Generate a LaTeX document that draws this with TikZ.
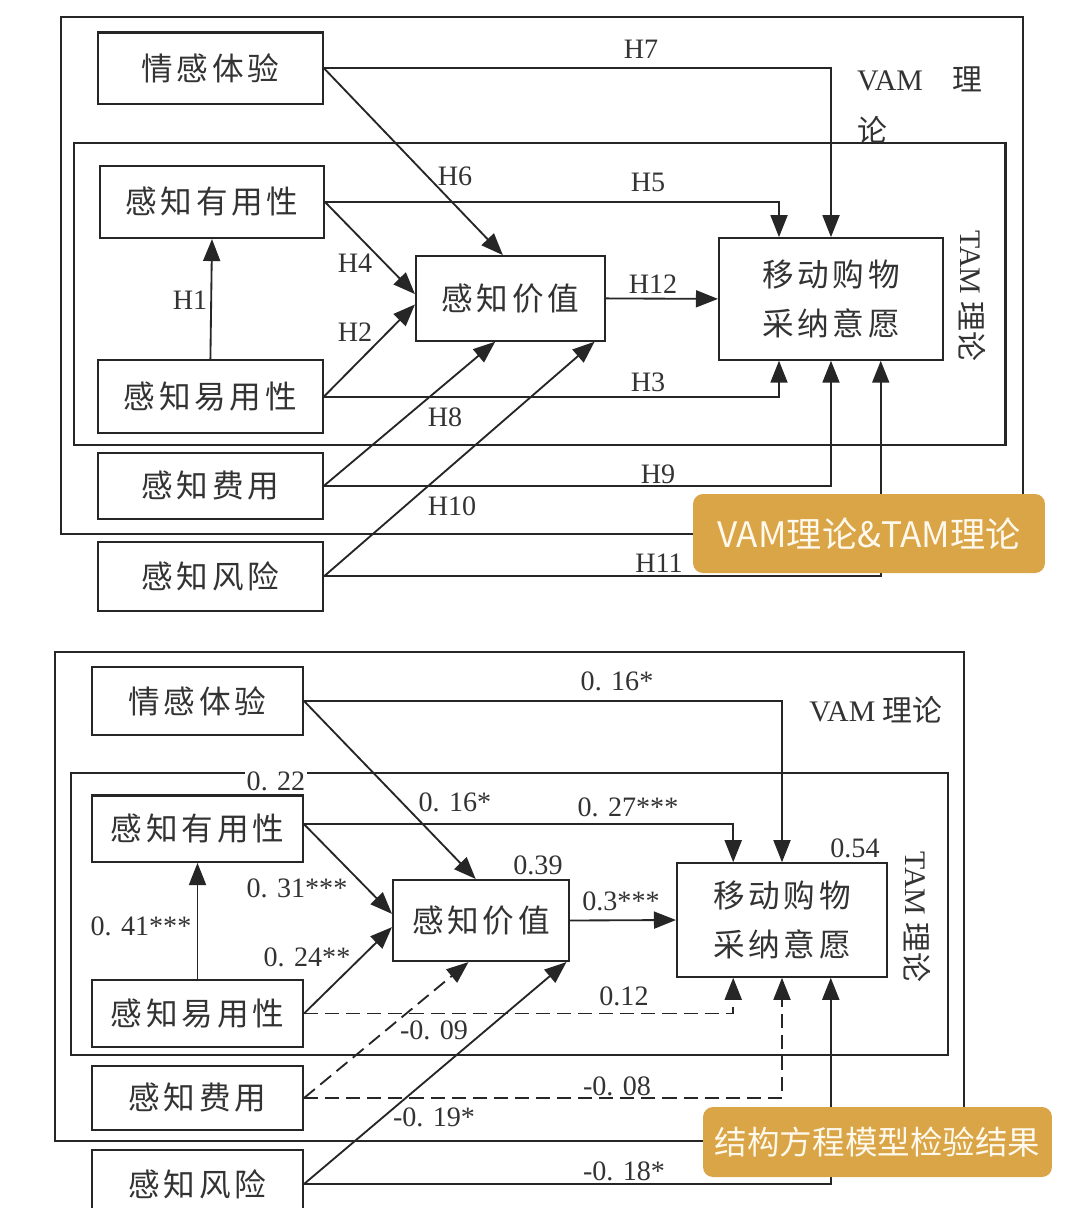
\documentclass[tikz,border=0pt]{standalone}
\usepackage{fontspec}
\setmainfont{Liberation Serif}
\newfontfamily\cjk{Noto Sans CJK SC}
\newfontfamily\cjkls[LetterSpace=12]{Noto Sans CJK SC}
\usetikzlibrary{arrows.meta,calc}
\definecolor{linec}{HTML}{262626}
\definecolor{txt}{HTML}{333333}
\definecolor{gold}{HTML}{D9A546}
\definecolor{cream}{HTML}{FFF8EC}
\begin{document}
\begin{tikzpicture}[x=0.02cm,y=-0.02cm,
 frame/.style={draw=linec,line width=1.2pt},
 box/.style={draw=linec,line width=1.2pt,inner sep=0pt,text=txt,font=\cjkls\fontsize{18}{28}\selectfont,align=center},
 arr/.style={draw=linec,line width=1.05pt,-{Triangle[length=0.44cm,width=0.34cm]}},
 darr/.style={arr,dash pattern=on 8pt off 4pt},
 lab/.style={text=txt,inner sep=1pt,font=\fontsize{16}{18}\selectfont},
 side/.style={text=txt,inner sep=1pt,font=\fontsize{17}{20}\selectfont},
 tag/.style={fill=gold,rounded corners=0.2cm,text=cream,inner sep=0pt}
]
\useasboundingbox (0,0) rectangle (1080,1208);
\fill[white] (0,0) rectangle (1080,1208);
\clip (0,0) rectangle (1080,1208);

%================ TOP DIAGRAM ================
\draw[frame] (60.7,16.6) rectangle (1023,533.6);
\draw[frame] (73.8,143) rectangle (1005.5,444.7);

\node[box,minimum width=4.50cm,minimum height=1.43cm] (qg) at (210.4,68.2) {情感体验};
\node[box,minimum width=4.48cm,minimum height=1.44cm] (yy) at (212,202) {感知有用性};
\node[box,minimum width=4.50cm,minimum height=1.45cm] (yyy) at (210.4,396.6) {感知易用性};
\node[box,minimum width=4.50cm,minimum height=1.33cm] (fy) at (210.4,485.8) {感知费用};
\node[box,minimum width=4.50cm,minimum height=1.37cm] (fx) at (210.4,576.4) {感知风险};
\node[box,minimum width=3.78cm,minimum height=1.69cm] (jz) at (510.5,298.4) {感知价值};
\node[box,minimum width=4.48cm,minimum height=2.43cm] (yd) at (831,298.9) {移动购物\\采纳意愿};

\node[side,anchor=west] (vamt) at (855,79) {VAM\quad{\cjk 理}};
\node[side] (vamt2) at (872,130) {\cjk 论};
\node[side,rotate=-90] (tamt) at (972,296) {TAM {\cjk 理论}};

\draw[arr] (qg.east) -| ($(yd.north west)!0.5!(yd.north east)$);
\draw[arr] (qg.east) -- ($(jz.north west)!0.46!(jz.north east)$);
\draw[arr] (yy.east) -| ($(yd.north west)!0.27!(yd.north east)$);
\draw[arr] (yy.east) -- ($(jz.north west)!0.45!(jz.south west)$);
\draw[arr] (yyy.north) -- (yy.south);
\draw[arr] (yyy.east) -- ($(jz.north west)!0.57!(jz.south west)$);
\draw[arr] (yyy.east) -| ($(yd.south west)!0.27!(yd.south east)$);
\draw[arr] (jz.east) -- (yd.west);
\draw[arr] (fy.east) -- ($(jz.south west)!0.42!(jz.south east)$);
\draw[arr] (fy.east) -| ($(yd.south west)!0.5!(yd.south east)$);
\draw[arr] (fx.east) -- ($(jz.south west)!0.94!(jz.south east)$);
\draw[arr] (fx.east) -| ($(yd.south west)!0.72!(yd.south east)$);

\node[lab] (h7) at (641,49) {H7};
\node[lab] (h6) at (455,176) {H6};
\node[lab] (h5) at (648,182) {H5};
\node[lab] (h4) at (355,263) {H4};
\node[lab] (h1) at (190,300) {H1};
\node[lab] (h2) at (355,332) {H2};
\node[lab] (h12) at (653,284) {H12};
\node[lab] (h3) at (648,382) {H3};
\node[lab] (h8) at (445,417) {H8};
\node[lab] (h9) at (658,474) {H9};
\node[lab] (h10) at (452,506) {H10};
\node[lab] (h11) at (659,563) {H11};

\node[tag,minimum width=7.04cm,minimum height=1.58cm,font=\cjk\fontsize{20}{24}\selectfont] (tag1) at (869,533.5) {VAM理论\&TAM理论};

%================ BOTTOM DIAGRAM ================
\draw[frame] (55,652) rectangle (964,1141);
\draw[frame] (71,773) rectangle (948,1054.7);

\node[box,minimum width=4.22cm,minimum height=1.36cm] (qg2) at (197.5,701) {情感体验};
\node[box,minimum width=4.22cm,minimum height=1.33cm] (yy2) at (197.5,828.7) {感知有用性};
\node[box,minimum width=4.22cm,minimum height=1.34cm] (yyy2) at (197.5,1013.5) {感知易用性};
\node[box,minimum width=4.22cm,minimum height=1.28cm] (fy2) at (197.5,1098) {感知费用};
\node[box,minimum width=4.22cm,minimum height=1.36cm] (fx2) at (197.5,1184) {感知风险};
\node[box,minimum width=3.52cm,minimum height=1.62cm] (jz2) at (481,920.5) {感知价值};
\node[box,minimum width=4.20cm,minimum height=2.27cm] (yd2) at (782,920) {移动购物\\采纳意愿};

\node[side] (vamb) at (876,710) {VAM {\cjk 理论}};
\node[side,rotate=-90] (tamb) at (917,917) {TAM {\cjk 理论}};

\draw[arr] (qg2.east) -| ($(yd2.north west)!0.5!(yd2.north east)$);
\draw[arr] (qg2.east) -- ($(jz2.north west)!0.47!(jz2.north east)$);
\draw[arr] ([yshift=0.09cm]yy2.east) -| ($(yd2.north west)!0.27!(yd2.north east)$);
\draw[arr] ([yshift=0.09cm]yy2.east) -- ($(jz2.north west)!0.42!(jz2.south west)$);
\draw[arr] (yyy2.north) -- (yy2.south);
\draw[arr] (yyy2.east) -- ($(jz2.north west)!0.58!(jz2.south west)$);
\draw[darr] (yyy2.east) -| ($(yd2.south west)!0.27!(yd2.south east)$);
\draw[arr] (jz2.east) -- (yd2.west);
\draw[darr] (fy2.east) -- ($(jz2.south west)!0.43!(jz2.south east)$);
\draw[darr] (fy2.east) -| ($(yd2.south west)!0.5!(yd2.south east)$);
\draw[arr] (fx2.east) -- ($(jz2.south west)!0.98!(jz2.south east)$);
\draw[arr] (fx2.east) -| ($(yd2.south west)!0.73!(yd2.south east)$);

\node[lab] (b1) at (617,681) {0. 16*};
\node[lab,fill=white] (b2) at (276,781) {0. 22};
\node[lab] (b3) at (455,802) {0. 16*};
\node[lab] (b4) at (628,807) {0. 27***};
\node[lab] (b5) at (538,865) {0.39};
\node[lab] (b6) at (855,848) {0.54};
\node[lab] (b7) at (297,888) {0. 31***};
\node[lab] (b8) at (141,926) {0. 41***};
\node[lab] (b9) at (621,901) {0.3***};
\node[lab] (b10) at (307,957) {0. 24**};
\node[lab] (b11) at (624,996) {0.12};
\node[lab] (b12) at (434,1030) {-0. 09};
\node[lab] (b13) at (617,1086) {-0. 08};
\node[lab] (b14) at (434,1117) {-0. 19*};
\node[lab] (b15) at (624,1171) {-0. 18*};

\node[tag,minimum width=6.98cm,minimum height=1.4cm,font=\cjk\fontsize{18.5}{22}\selectfont] (tag2) at (877.5,1142) {结构方程模型检验结果};
\end{tikzpicture}
\end{document}
